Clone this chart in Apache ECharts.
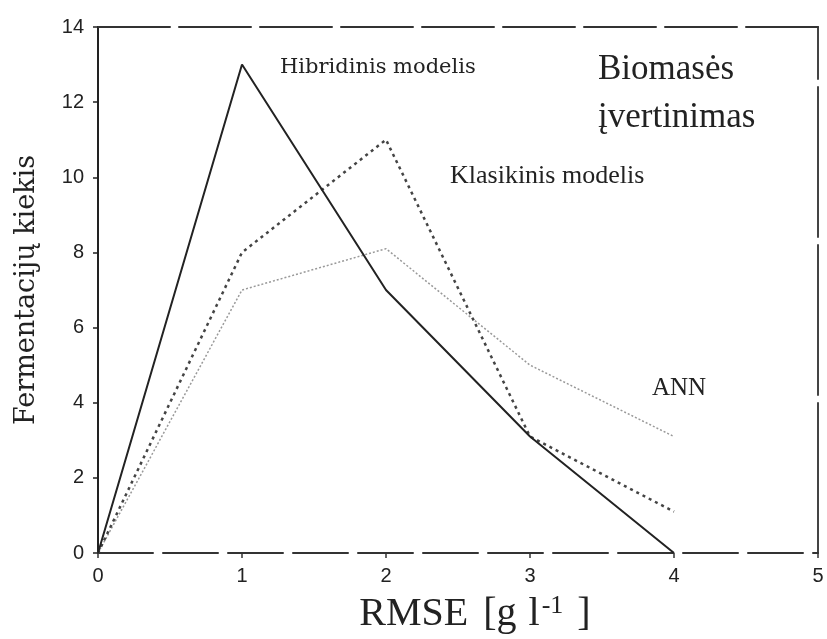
<!DOCTYPE html>
<html>
<head>
<meta charset="utf-8">
<script src="https://cdn.jsdelivr.net/npm/echarts@6/dist/echarts.min.js"></script>
<style>
html,body{margin:0;padding:0;background:#fff;}
#chart{width:827px;height:639px;}
</style>
</head>
<body>
<div id="chart"></div>
<script>
const xValues = [0, 1, 2, 3, 4];
const hibridinis = [0, 13, 7, 3.1, 0];
const klasikinis = [0, 8, 11, 3.1, 1.1];
const ann = [0, 7, 8.1, 5, 3.1];
const xTicks = [0, 1, 2, 3, 4, 5];
const yTicks = [0, 2, 4, 6, 8, 10, 12, 14];

const pairs = arr => xValues.map((x, i) => [x, arr[i]]);

const chart = echarts.init(document.getElementById('chart'));
const sans = 'Liberation Sans, Arial, sans-serif';
const serif = 'Liberation Serif, Times New Roman, serif';

chart.setOption({
  animation: false,
  backgroundColor: '#fff',
  grid: { left: 98, right: 9, top: 27, bottom: 84 },
  xAxis: [{
    type: 'value', min: xTicks[0], max: xTicks[xTicks.length - 1], interval: 1,
    name: '{a|RMSE}{b|[g}{c|l}{s|-1}{d|]}',
    nameLocation: 'middle', nameGap: 40,
    nameTextStyle: {
      padding: [0, 0, 0, 34],
      rich: {
        a: { fontFamily: serif, fontSize: 40, color: '#222' },
        b: { fontFamily: serif, fontSize: 40, color: '#222', padding: [0, 0, 0, 15] },
        c: { fontFamily: serif, fontSize: 40, color: '#222', padding: [0, 0, 0, 12] },
        s: { fontFamily: serif, fontSize: 26, color: '#222', padding: [0, 0, 16, 2] },
        d: { fontFamily: serif, fontSize: 40, color: '#222', padding: [0, 0, 0, 14] }
      }
    },
    axisLine: { onZero: false, lineStyle: { color: '#333', width: 2, type: [55, 10] } },
    axisTick: { show: true, inside: false, length: 5, lineStyle: { color: '#333', width: 1.5 } },
    axisLabel: { fontFamily: sans, fontSize: 20, color: '#222', margin: 13 },
    splitLine: { show: false }
  }, {
    type: 'value', position: 'top', min: 0, max: 5,
    axisLine: { show: true, onZero: false, lineStyle: { color: '#333', width: 2, type: [72, 9] } },
    axisTick: { show: false }, axisLabel: { show: false }, splitLine: { show: false }
  }],
  yAxis: [{
    type: 'value', min: yTicks[0], max: yTicks[yTicks.length - 1], interval: 2,
    name: 'Fermentacijų kiekis',
    nameLocation: 'middle', nameGap: 58, nameRotate: 90,
    nameTextStyle: { fontFamily: 'DejaVu Serif, serif', fontSize: 27, color: '#222' },
    axisLine: { show: true, onZero: false, lineStyle: { color: '#222', width: 2 } },
    axisTick: { show: true, inside: false, length: 5, lineStyle: { color: '#222', width: 1.5 } },
    axisLabel: { fontFamily: sans, fontSize: 20, color: '#222', margin: 14 },
    splitLine: { show: false }
  }, {
    type: 'value', position: 'right', min: 0, max: 14,
    axisLine: { show: true, onZero: false, lineStyle: { color: '#444', width: 2, type: [150, 8] } },
    axisTick: { show: false }, axisLabel: { show: false }, splitLine: { show: false }
  }],
  series: [{
    name: 'ANN', type: 'line', data: pairs(ann), symbol: 'none',
    lineStyle: { color: '#999', width: 1.5, type: [2, 2] }, z: 2
  }, {
    name: 'Klasikinis modelis', type: 'line', data: pairs(klasikinis), symbol: 'none',
    lineStyle: { color: '#444', width: 2.5, type: [3, 4] }, z: 3
  }, {
    name: 'Hibridinis modelis', type: 'line', data: pairs(hibridinis), symbol: 'none',
    lineStyle: { color: '#222', width: 2 }, z: 4
  }],
  graphic: [
    { type: 'text', x: 280, y: 68, style: { text: 'Hibridinis modelis', font: '21px "DejaVu Serif", serif', fill: '#222', verticalAlign: 'middle', align: 'left' } },
    { type: 'text', x: 598, y: 70, style: { text: 'Biomasės', font: '35px "Liberation Serif", serif', fill: '#222', verticalAlign: 'middle', align: 'left' } },
    { type: 'text', x: 598, y: 118, style: { text: 'įvertinimas', font: '35px "Liberation Serif", serif', fill: '#222', verticalAlign: 'middle', align: 'left' } },
    { type: 'text', x: 450, y: 176, style: { text: 'Klasikinis modelis', font: '26px "Liberation Serif", serif', fill: '#222', verticalAlign: 'middle', align: 'left' } },
    { type: 'text', x: 652, y: 388, style: { text: 'ANN', font: '25px "Liberation Serif", serif', fill: '#222', verticalAlign: 'middle', align: 'left' } }
  ]
});
</script>
</body>
</html>
